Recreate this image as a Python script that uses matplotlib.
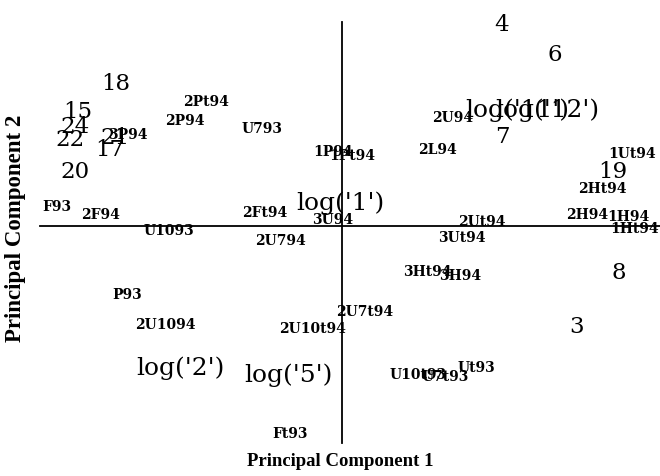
import matplotlib
matplotlib.use("Agg")
import matplotlib.pyplot as plt

# variable scores (small labels)
var_names = ["2Pt94", "2P94", "3P94", "U793", "1P94", "1Pt94", "F93", "2F94",
             "U1093", "2Ft94", "2U794", "3U94", "2U94", "2L94", "1Ut94", "2Ht94",
             "2H94", "1H94", "1Ht94", "2Ut94", "3Ut94", "3Ht94", "3H94", "2U7t94",
             "P93", "2U1094", "2U10t94", "U10t93", "U7t93", "Ut93", "Ft93"]
var_x = [-1.36, -1.57, -2.14, -0.80, -0.09, 0.10, -2.85, -2.42,
         -1.73, -0.77, -0.62, -0.09, 1.11, 0.95, 2.90, 2.60,
         2.45, 2.86, 2.93, 1.40, 1.20, 0.85, 1.18, 0.23,
         -2.15, -1.77, -0.30, 0.76, 1.03, 1.34, -0.52]
var_y = [1.24, 1.05, 0.91, 0.97, 0.74, 0.70, 0.19, 0.11,
         -0.05, 0.13, -0.15, 0.06, 1.08, 0.76, 0.72, 0.37,
         0.11, 0.09, -0.03, 0.04, -0.12, -0.46, -0.50, -0.86,
         -0.69, -0.99, -1.03, -1.49, -1.51, -1.42, -2.08]

# observation scores (numbers)
obs_names = ["18", "15", "24", "22", "21", "17", "20", "4", "6", "7", "19", "8", "3"]
obs_x = [-2.26, -2.64, -2.67, -2.72, -2.27, -2.32, -2.67, 1.60, 2.13, 1.60, 2.71, 2.77, 2.35]
obs_y = [1.42, 1.14, 0.99, 0.86, 0.88, 0.76, 0.54, 2.01, 1.71, 0.89, 0.54, -0.47, -1.01]

# log labels
log_names = ["log('1')", "log('2')", "log('5')", "log('11')", "log('12')"]
log_x = [-0.02, -1.62, -0.54, 1.75, 2.05]
log_y = [0.23, -1.42, -1.49, 1.16, 1.16]

fig = plt.figure(figsize=(6.6, 4.76), dpi=100)
ax = fig.add_axes([0, 0, 1, 1])
ax.set_xlim(-3.42, 3.18)
ax.set_ylim(-2.5, 2.26)
ax.axis("off")

ax.plot([-3.02, 3.18], [0, 0], color="black", lw=1.3)
ax.plot([0, 0], [-2.17, 2.04], color="black", lw=1.3)

for name, x, y in zip(var_names, var_x, var_y):
    ax.text(x, y, name, ha="center", va="center", fontsize=10,
            family="DejaVu Serif", fontweight="bold")

for name, x, y in zip(obs_names, obs_x, obs_y):
    ax.text(x, y, name, ha="center", va="center", fontsize=16.5, family="DejaVu Serif")

for name, x, y in zip(log_names, log_x, log_y):
    ax.text(x, y, name, ha="center", va="center", fontsize=18, family="DejaVu Serif")

ax.text(340 / 660, 1 - 462 / 476, "Principal Component 1", transform=ax.transAxes,
        ha="center", va="center", fontsize=13.5, family="Liberation Serif", fontweight="bold")
ax.text(16 / 660, 1 - 228 / 476, "Principal Component 2", transform=ax.transAxes,
        ha="center", va="center", rotation=90, fontsize=16.5, family="Liberation Serif",
        fontweight="bold")

fig.savefig("out.png", dpi=100, facecolor="white")
